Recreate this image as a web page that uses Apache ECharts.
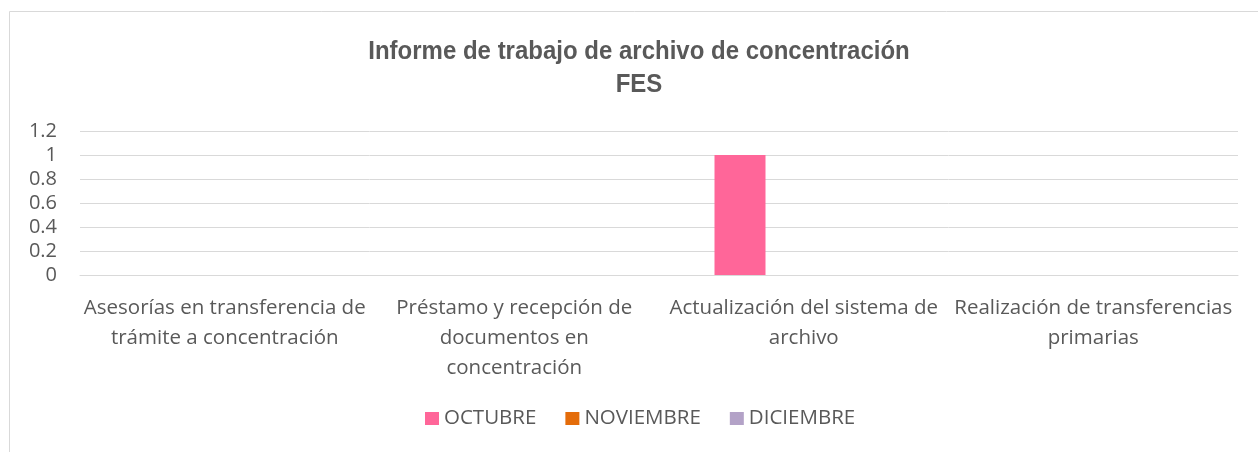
<!DOCTYPE html>
<html><head><meta charset="utf-8">
<script src="https://cdn.jsdelivr.net/npm/echarts@6/dist/echarts.min.js"></script>
<style>html,body{margin:0;padding:0;background:#fff}#c{width:1258px;height:452px}</style>
</head><body><div id="c"></div>
<script>
const titleLines = ['Informe de trabajo de archivo de concentración', 'FES'];
const categories = [
  'Asesorías en transferencia de\ntrámite a concentración',
  'Préstamo y recepción de\ndocumentos en\nconcentración',
  'Actualización del sistema de\narchivo',
  'Realización de transferencias\nprimarias'
];
const seriesNames = ['OCTUBRE', 'NOVIEMBRE', 'DICIEMBRE'];
const octubre = [0, 0, 1, 0];
const noviembre = [0, 0, 0, 0];
const diciembre = [0, 0, 0, 0];
const yTicks = [0, 0.2, 0.4, 0.6, 0.8, 1, 1.2];
const colors = ['#FF6699', '#E46C0A', '#B3A2C7'];

const chart = echarts.init(document.getElementById('c'), null, {renderer: 'canvas'});
const txt = '#595959';
const font = "'Open Sans', 'Noto Sans', sans-serif";
const titleFont = "'Liberation Sans Narrow', 'Liberation Sans', Arial, sans-serif";
chart.setOption({
  animation: false,
  color: colors,
  graphic: [
    {type: 'rect', shape: {x: 9.5, y: 11.5, width: 1270, height: 460},
      style: {fill: 'none', stroke: '#d9d9d9', lineWidth: 1}, silent: true, z: -1},
    {type: 'text', x: 639, y: 52, scaleX: 0.923, silent: true,
      style: {text: titleLines[0], fill: txt, font: "bold 26px " + titleFont, textAlign: 'center', textVerticalAlign: 'middle'}},
    {type: 'text', x: 639, y: 85, scaleX: 0.923, silent: true,
      style: {text: titleLines[1], fill: txt, font: "bold 26px " + titleFont, textAlign: 'center', textVerticalAlign: 'middle'}}
  ],
  legend: {top: 408, left: 425, padding: 0, itemWidth: 14, itemHeight: 13, itemGap: 29, icon: 'rect',
    data: seriesNames, textStyle: {fontFamily: font, fontSize: 20.5, color: txt}},
  grid: {left: 80, right: 20, top: 131, bottom: 177},
  xAxis: {type: 'category', data: categories,
    axisLine: {lineStyle: {color: '#d9d9d9'}}, axisTick: {show: false},
    axisLabel: {fontFamily: font, fontSize: 20.5, color: txt, lineHeight: 30, margin: 18, interval: 0}},
  yAxis: {type: 'value', min: yTicks[0], max: yTicks[yTicks.length - 1], interval: 0.2,
    axisLine: {show: false}, axisTick: {show: false},
    splitLine: {lineStyle: {color: '#d9d9d9', width: 1}},
    axisLabel: {fontFamily: font, fontSize: 20, color: txt, margin: 23,
      formatter: v => String(Math.round(v * 10) / 10)}},
  series: [
    {name: seriesNames[0], type: 'bar', data: octubre, barWidth: 51, barGap: '25%'},
    {name: seriesNames[1], type: 'bar', data: noviembre, barWidth: 51, barGap: '25%'},
    {name: seriesNames[2], type: 'bar', data: diciembre, barWidth: 51, barGap: '25%'}
  ]
});
</script></body></html>
